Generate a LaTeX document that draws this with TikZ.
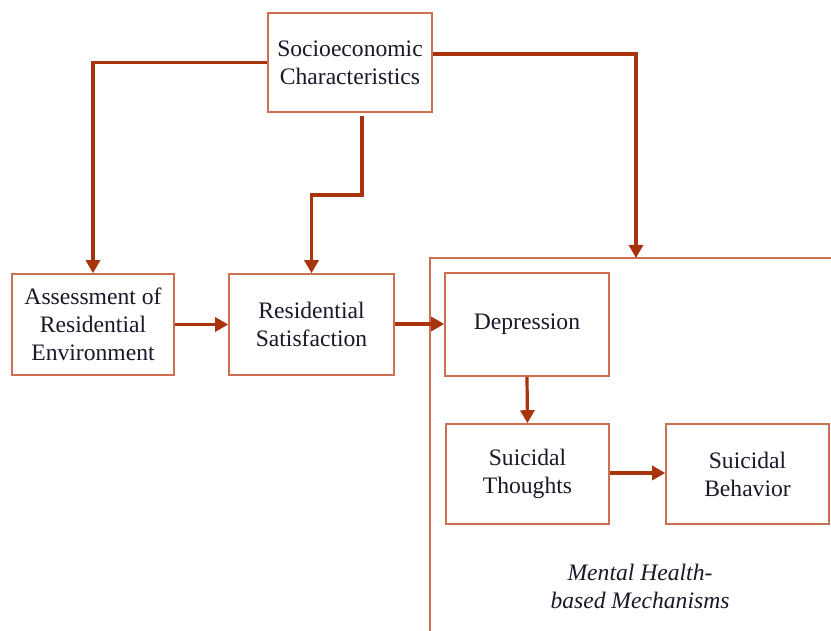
\documentclass[tikz,border=0pt]{standalone}
\usepackage{fontspec}
\setmainfont{Liberation Serif}
\usetikzlibrary{arrows.meta}
\definecolor{boxc}{RGB}{205,112,82}
\definecolor{arrc}{RGB}{168,52,14}
\definecolor{txtc}{RGB}{25,25,40}
\tikzset{
  blk/.style={draw=boxc, line width=0.8pt, rectangle, align=center, text=txtc,
     font=\fontsize{11.8}{14}\selectfont, inner sep=0pt},
  arr/.style={draw=arrc, line width=1.6pt, -{Triangle[width=7pt,length=6.5pt]}},
  frame/.style={draw=boxc, line width=0.8pt},
  lbl/.style={align=center, text=txtc, font=\fontsize{11.8}{14}\selectfont\itshape}
}
\begin{document}
\begin{tikzpicture}[x=0.5pt,y=-0.5pt]
\useasboundingbox (0,0) rectangle (831,631);
\fill[white] (0,0) rectangle (831,631);
\node[blk, minimum width=82pt, minimum height=49.5pt] (socio) at (350,62.5) {Socioeconomic\\Characteristics};
\node[blk, minimum width=81pt, minimum height=50.5pt] (assess) at (93,324.5) {Assessment of\\Residential\\Environment};
\node[blk, minimum width=82.5pt, minimum height=50.5pt] (ressat) at (311.5,324.5) {Residential\\Satisfaction};
\node[blk, minimum width=82pt, minimum height=51.5pt] (dep) at (527,324.5) {\raisebox{-2pt}{Depression}};
\node[blk, minimum width=81.5pt, minimum height=50pt] (st) at (527.5,474) {Suicidal\\Thoughts};
\node[blk, minimum width=81.5pt, minimum height=50pt] (sb) at (747.5,474) {Suicidal\\Behavior};
\draw[frame] (831,258) -- (430,258) -- (430,631);
\coordinate (ctop) at (636,258);
\coordinate (s1) at (362,116);
\node[lbl] (mh) at (640,586) {Mental Health-\\based Mechanisms};
\draw[arr] (socio.west) -| (assess.north);
\draw[arr] (socio.east |- 0,54) -| (ctop);
\draw[arr] (s1) |- (ressat.north |- 0,195) -- (ressat.north);
\draw[arr] (assess.east) -- (ressat.west);
\draw[arr] (ressat.east |- 0,324) -- (dep.west |- 0,324);
\draw[arr] (dep.south) -- (st.north);
\draw[arr] (st.east |- 0,473) -- (sb.west |- 0,473);
\end{tikzpicture}
\end{document}
